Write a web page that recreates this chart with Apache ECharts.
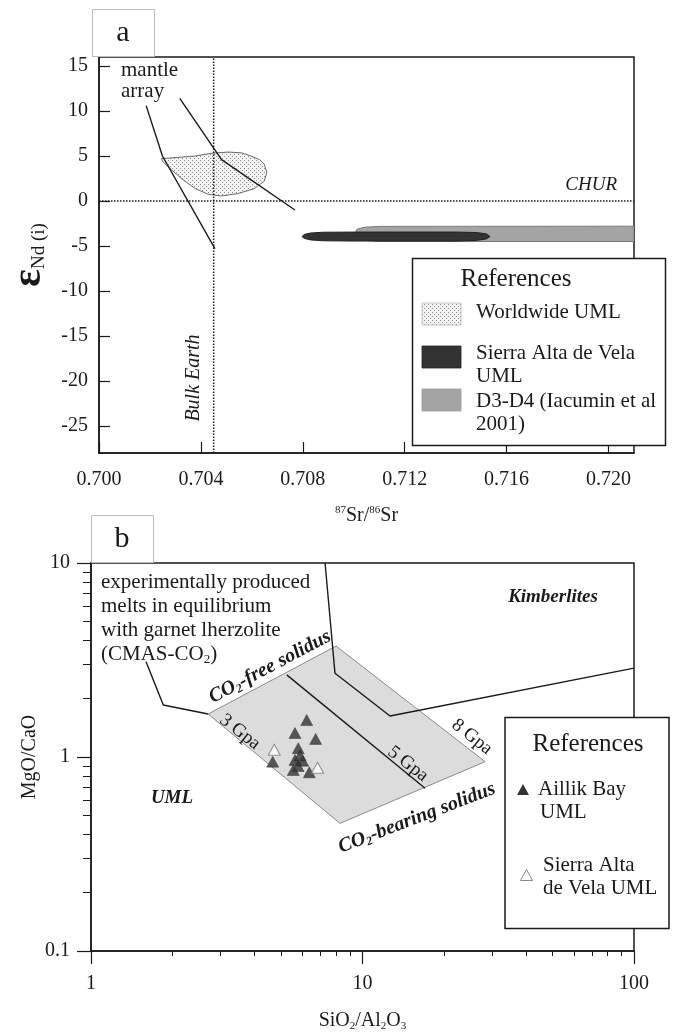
<!DOCTYPE html>
<html><head><meta charset="utf-8">
<script src="https://cdn.jsdelivr.net/npm/echarts@6/dist/echarts.min.js"></script>
<style>html,body{margin:0;padding:0;background:#fff}#c{width:674px;height:1033px}</style>
</head><body><div id="c"></div>
<script>
// ===== Panel a: eNd(i) vs 87Sr/86Sr =====
const srTicks = [0.700, 0.704, 0.708, 0.712, 0.716, 0.720];
const endTicks = [-25, -20, -15, -10, -5, 0, 5, 10, 15];
const mantleLine1 = [[0.70185, 10.6], [0.70249, 5.0], [0.70455, -5.3]];
const mantleLine2 = [[0.70317, 11.4], [0.70481, 4.6], [0.70769, -1.0]];
const churLine = [[0.700, 0], [0.721, 0]];
const bulkEarthLine = [[0.7045, -28], [0.7045, 16]];
const worldwideUML = [[0.70245, 4.71], [0.70310, 4.85], [0.70378, 5.0], [0.70443, 5.3], [0.70507, 5.44], [0.70560, 5.35],
  [0.70597, 5.0], [0.70630, 4.6], [0.70649, 4.08], [0.70659, 3.16], [0.70649, 2.22], [0.70610, 1.38], [0.70545, 0.82],
  [0.70481, 0.56], [0.70429, 0.74], [0.70378, 1.38], [0.70327, 2.41], [0.70275, 3.71], [0.70250, 4.4]];
const sierraAltaA = [[0.70797, -3.95], [0.70805, -3.72], [0.70830, -3.56], [0.70880, -3.47], [0.7100, -3.45], [0.7140, -3.45],
  [0.7148, -3.5], [0.7152, -3.65], [0.71535, -3.95], [0.7152, -4.22], [0.7148, -4.38], [0.7140, -4.45], [0.7100, -4.45],
  [0.70880, -4.42], [0.70830, -4.32], [0.70805, -4.15]];
const d3d4 = [[0.71005, -3.7], [0.71012, -3.15], [0.71040, -2.92], [0.7110, -2.82], [0.7210, -2.8], [0.7210, -4.5],
  [0.7110, -4.5], [0.71005, -4.3]];

// ===== Panel b: MgO/CaO vs SiO2/Al2O3 =====
const meltField = [[2.70, 1.666], [7.99, 3.73], [28.3, 0.946], [8.26, 0.455]];
const line5Gpa = [[5.26, 2.65], [17.0, 0.69]];
const meltsPointer = [[1.595, 3.10], [1.846, 1.854], [2.70, 1.666]];
const kimberliteBoundary = [[7.28, 10], [7.92, 2.70], [12.63, 1.627], [100, 2.87]];
const aillikBay = [[6.23, 1.55], [5.64, 1.33], [6.72, 1.24], [5.80, 1.11], [4.67, 0.946], [5.64, 0.965],
  [6.02, 0.957], [5.56, 0.857], [6.37, 0.834], [5.79, 0.899], [5.89, 1.02]];
const sierraAltaB = [[4.73, 1.09], [6.83, 0.88]];

const SERIF = "'Liberation Serif','Times New Roman',serif";
const INK = '#1a1a1a';

// stipple pattern for the worldwide UML field
const pc = document.createElement('canvas'); pc.width = 4; pc.height = 4;
const pctx = pc.getContext('2d');
pctx.fillStyle = '#f3f3f3'; pctx.fillRect(0, 0, 4, 4);
pctx.fillStyle = '#8a8a8a'; pctx.fillRect(0, 0, 1, 1); pctx.fillRect(2, 2, 1, 1);
const stipple = {image: pc, repeat: 'repeat'};

function polygonSeries(name, pts, gi, style, z) {
  return {type: 'custom', name, xAxisIndex: gi, yAxisIndex: gi, clip: true, silent: true, z, data: pts,
    renderItem: function (params, api) {
      if (params.dataIndex !== 0) return null;
      return {type: 'polygon', shape: {points: pts.map(p => api.coord(p))}, style: style};
    }};
}
function lineSeries(name, pts, gi, style, z) {
  return {type: 'line', name, xAxisIndex: gi, yAxisIndex: gi, data: pts, symbol: 'none', showSymbol: false,
    lineStyle: style, silent: true, z, clip: true};
}

const tickLabel = {fontSize: 20, fontFamily: SERIF, color: INK};

function txt(x, y, text, o) {
  o = o || {};
  return {type: 'text', x, y, rotation: (o.rot || 0) * Math.PI / 180, z: 100,
    style: Object.assign({text, x: 0, y: 0, fill: INK, fontSize: o.size || 21, fontFamily: SERIF,
      fontStyle: o.italic ? 'italic' : 'normal', fontWeight: o.bold ? 'bold' : 'normal',
      align: o.align || 'left', verticalAlign: o.va || 'middle', lineHeight: o.lh}, o.style || {})};
}
function rich(size, bold, italic, lh) {
  const base = {fontSize: size, fontFamily: SERIF, color: INK, fontWeight: bold ? 'bold' : 'normal',
    fontStyle: italic ? 'italic' : 'normal', lineHeight: lh || size + 3};
  return {a: base, s: Object.assign({}, base, {fontSize: Math.round(size * 0.6), lineHeight: Math.round(size * 0.6), verticalAlign: 'bottom'})};
}

const chart = echarts.init(document.getElementById('c'));
const option = {
  animation: false,
  backgroundColor: '#fff',
  grid: [
    {left: 92, top: 57, width: 542, height: 396, show: true, borderColor: INK, borderWidth: 1.5},
    {left: 91, top: 563, width: 543, height: 388, show: true, borderColor: INK, borderWidth: 1.5}
  ],
  xAxis: [
    {type: 'value', gridIndex: 0, min: 0.700, max: 0.721,
      axisLine: {onZero: false, lineStyle: {color: INK, width: 1.5}}, splitLine: {show: false},
      axisTick: {inside: true, length: 11, customValues: srTicks, lineStyle: {color: INK, width: 1.2}},
      axisLabel: Object.assign({customValues: srTicks, formatter: v => v.toFixed(3), margin: 17}, tickLabel),
      name: '{p|87}{t|Sr/}{p|86}{t|Sr}', nameLocation: 'middle', nameGap: 52, nameMoveOverlap: false,
      nameTextStyle: {rich: {t: {fontSize: 20, fontFamily: SERIF, color: INK, lineHeight: 22},
        p: {fontSize: 11, fontFamily: SERIF, color: INK, lineHeight: 11, verticalAlign: 'top'}}}},
    {type: 'log', gridIndex: 1, min: 1, max: 100, logBase: 10,
      axisLine: {onZero: false, lineStyle: {color: INK, width: 1.5}}, splitLine: {show: false},
      axisTick: {inside: false, length: 13, lineStyle: {color: INK, width: 1.2}},
      minorTick: {show: true, splitNumber: 9, length: 5, lineStyle: {color: INK, width: 1}},
      axisLabel: Object.assign({margin: 23}, tickLabel),
      name: '{t|SiO}{s|2}{t|/Al}{s|2}{t|O}{s|3}', nameLocation: 'middle', nameGap: 59, nameMoveOverlap: false,
      nameTextStyle: {rich: {t: {fontSize: 20, fontFamily: SERIF, color: INK, lineHeight: 22},
        s: {fontSize: 11, fontFamily: SERIF, color: INK, lineHeight: 11, verticalAlign: 'bottom'}}}}
  ],
  yAxis: [
    {type: 'value', gridIndex: 0, min: -28, max: 16,
      axisLine: {onZero: false, lineStyle: {color: INK, width: 1.5}}, splitLine: {show: false},
      axisTick: {inside: true, length: 11, customValues: endTicks, lineStyle: {color: INK, width: 1.2}},
      axisLabel: Object.assign({customValues: endTicks, margin: 11}, tickLabel),
      name: '{e|ε}{n|Nd (i)}', nameLocation: 'middle', nameRotate: 90, nameGap: 50, nameMoveOverlap: false,
      nameTextStyle: {rich: {e: {fontSize: 42, fontFamily: SERIF, fontWeight: 'bold', color: INK, lineHeight: 40},
        n: {fontSize: 19, fontFamily: SERIF, color: INK, lineHeight: 19, verticalAlign: 'bottom'}}}},
    {type: 'log', gridIndex: 1, min: 0.1, max: 10, logBase: 10,
      axisLine: {onZero: false, lineStyle: {color: INK, width: 1.5}}, splitLine: {show: false},
      axisTick: {inside: false, length: 14, lineStyle: {color: INK, width: 1.2}},
      minorTick: {show: true, splitNumber: 9, length: 8, lineStyle: {color: INK, width: 1}},
      axisLabel: Object.assign({margin: 21}, tickLabel),
      name: 'MgO/CaO', nameLocation: 'middle', nameRotate: 90, nameGap: 51, nameMoveOverlap: false,
      nameTextStyle: {fontSize: 20, fontFamily: SERIF, color: INK}}
  ],
  series: [
    polygonSeries('D3-D4 (Iacumin et al 2001)', d3d4, 0, {fill: '#a4a4a4', stroke: '#7a7a7a', lineWidth: 1}, 2),
    polygonSeries('Sierra Alta de Vela UML', sierraAltaA, 0, {fill: '#333', stroke: '#222', lineWidth: 1}, 3),
    polygonSeries('Worldwide UML', worldwideUML, 0, {fill: stipple, stroke: '#6a6a6a', lineWidth: 1}, 3),
    lineSeries('CHUR', churLine, 0, {color: INK, width: 1.5, type: 'dotted'}, 4),
    lineSeries('Bulk Earth', bulkEarthLine, 0, {color: INK, width: 1.5, type: 'dotted'}, 4),
    lineSeries('mantle array 1', mantleLine1, 0, {color: INK, width: 1.4}, 5),
    lineSeries('mantle array 2', mantleLine2, 0, {color: INK, width: 1.4}, 5),

    polygonSeries('melt field', meltField, 1, {fill: '#dcdcdc', stroke: '#8a8a8a', lineWidth: 1}, 2),
    lineSeries('5 Gpa', line5Gpa, 1, {color: INK, width: 1.4}, 4),
    lineSeries('melts pointer', meltsPointer, 1, {color: INK, width: 1.4}, 4),
    lineSeries('kimberlite boundary', kimberliteBoundary, 1, {color: INK, width: 1.4}, 4),
    {type: 'scatter', name: 'Aillik Bay UML', xAxisIndex: 1, yAxisIndex: 1, data: aillikBay, symbol: 'triangle',
      symbolSize: [12, 11], itemStyle: {color: '#333', borderColor: '#222', borderWidth: 0.5}, z: 6, silent: true},
    {type: 'scatter', name: 'Sierra Alta de Vela UML', xAxisIndex: 1, yAxisIndex: 1, data: sierraAltaB, symbol: 'triangle',
      symbolSize: [12, 11], itemStyle: {color: '#fff', borderColor: '#777', borderWidth: 1}, z: 7, silent: true}
  ],
  graphic: [
    // panel labels
    {type: 'rect', z: 100, shape: {x: 92.5, y: 9.5, width: 62, height: 47}, style: {fill: '#fff', stroke: '#bbb', lineWidth: 1}},
    txt(123, 33, 'a', {size: 30, align: 'center'}),
    {type: 'rect', z: 100, shape: {x: 91.5, y: 515.5, width: 62, height: 47}, style: {fill: '#fff', stroke: '#bbb', lineWidth: 1}},
    txt(122, 539, 'b', {size: 30, align: 'center'}),

    // panel a annotations
    txt(121, 60, 'mantle\narray', {size: 21, va: 'top', lh: 21}),
    txt(617, 185, 'CHUR', {size: 19, italic: true, align: 'right'}),
    txt(194, 378, 'Bulk Earth', {size: 20, italic: true, align: 'center', rot: 90}),

    // legend a
    {type: 'rect', z: 100, shape: {x: 412.5, y: 258.5, width: 253, height: 187}, style: {fill: '#fff', stroke: INK, lineWidth: 1.5}},
    txt(516, 279, 'References', {size: 25, align: 'center'}),
    {type: 'rect', z: 101, shape: {x: 422, y: 303, width: 39, height: 22}, style: {fill: stipple, stroke: '#bbb', lineWidth: 0.8}},
    txt(476, 312, 'Worldwide UML', {size: 21}),
    {type: 'rect', z: 101, shape: {x: 422, y: 346, width: 39, height: 22}, style: {fill: '#333', stroke: '#222', lineWidth: 0.8}},
    txt(476, 353, 'Sierra Alta de Vela', {size: 21}),
    txt(476, 376, 'UML', {size: 21}),
    {type: 'rect', z: 101, shape: {x: 422, y: 389, width: 39, height: 22}, style: {fill: '#a4a4a4', stroke: '#999', lineWidth: 0.8}},
    txt(476, 401, 'D3-D4 (Iacumin et al', {size: 21}),
    txt(476, 424, '2001)', {size: 21}),

    // panel b annotations
    txt(101, 570, '{a|experimentally produced}\n{a|melts in equilibrium}\n{a|with garnet lherzolite}\n{a|(CMAS-CO}{s|2}{a|)}',
      {va: 'top', style: {rich: rich(21, false, false, 24)}}),
    txt(553, 597, 'Kimberlites', {size: 19, bold: true, italic: true, align: 'center'}),
    txt(172, 798, 'UML', {size: 19, bold: true, italic: true, align: 'center'}),
    txt(270, 667, '{a|CO}{s|2}{a|-free solidus}', {align: 'center', rot: 28, style: {rich: rich(20, true, true, 22)}}),
    txt(417, 818, '{a|CO}{s|2}{a|-bearing solidus}', {align: 'center', rot: 21, style: {rich: rich(20, true, true, 22)}}),
    txt(240, 732, '3 Gpa', {size: 19, align: 'center', rot: -38}),
    txt(408, 764, '5 Gpa', {size: 19, align: 'center', rot: -38}),
    txt(472, 737, '8 Gpa', {size: 19, align: 'center', rot: -38}),

    // legend b
    {type: 'rect', z: 100, shape: {x: 505, y: 717.5, width: 164, height: 211}, style: {fill: '#fff', stroke: INK, lineWidth: 1.5}},
    txt(588, 744, 'References', {size: 25, align: 'center'}),
    {type: 'polygon', z: 101, shape: {points: [[517, 795], [529, 795], [523, 784]]}, style: {fill: '#333'}},
    txt(538, 789, 'Aillik Bay', {size: 21}),
    txt(540, 812, 'UML', {size: 21}),
    {type: 'polygon', z: 101, shape: {points: [[520.5, 880.5], [532.5, 880.5], [526.5, 869.5]]}, style: {fill: '#fff', stroke: '#888', lineWidth: 1}},
    txt(543, 865, 'Sierra Alta', {size: 21}),
    txt(543, 888, 'de Vela UML', {size: 21})
  ]
};
chart.setOption(option);
</script>
</body></html>
